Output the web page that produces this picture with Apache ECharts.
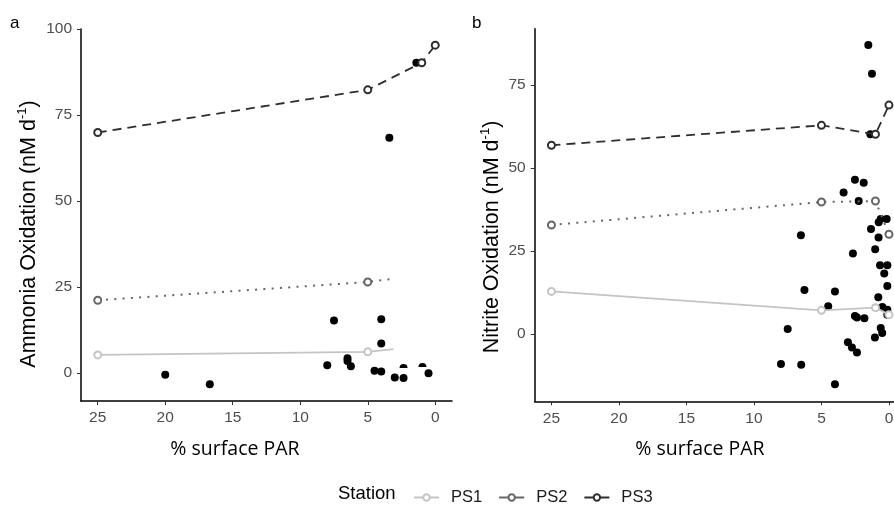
<!DOCTYPE html>
<html>
<head>
<meta charset="utf-8">
<script src="https://cdn.jsdelivr.net/npm/echarts@6/dist/echarts.min.js"></script>
<style>
html,body{margin:0;padding:0;background:#fff;}
#chart{width:894px;height:506px;}
</style>
</head>
<body>
<div id="chart"></div>
<script>
// ---- data ----
const stations = ['PS1', 'PS2', 'PS3'];
const xTicks = [0, 5, 10, 15, 20, 25];
const ammoniaTicks = [0, 25, 50, 75, 100];
const nitriteTicks = [0, 25, 50, 75];

// Panel a: ammonia oxidation, station lines (last PS1/PS2 point has no circle)
const ammoniaPS1 = [[25, 5.2], [5, 6.1], [3.1, 6.9]];
const ammoniaPS2 = [[25, 21.1], [5, 26.4], [3.1, 27.4]];
const ammoniaPS3 = [[25, 69.9], [5, 82.3], [1.0, 90.2], [0, 95.3]];
const ammoniaObs = [
  [20.0, -0.6], [16.7, -3.3], [7.5, 15.2], [8.0, 2.2], [6.5, 4.2], [6.5, 3.4],
  [6.25, 1.9], [4.0, 15.6], [4.0, 8.5], [4.5, 0.6], [4.0, 0.4], [3.0, -1.4],
  [2.35, -1.5], [0.5, -0.1], [1.4, 90.2], [3.4, 68.4]
];
const ammoniaPartial = [[2.35, 2.0], [0.95, 2.3]];

// Panel b: nitrite oxidation
const nitritePS1 = [[25, 12.9], [5, 7.2], [1.0, 8.0], [0, 5.9]];
const nitritePS2 = [[25, 32.9], [5, 39.8], [1.0, 40.1], [0, 30.1]];
const nitritePS3 = [[25, 56.9], [5, 62.9], [1.0, 60.2], [0, 69.0]];
const nitriteObs = [
  [1.53, 87.1], [1.26, 78.4], [1.38, 60.2], [2.52, 46.5], [1.87, 45.6], [3.36, 42.7],
  [2.24, 40.1], [6.52, 29.8], [1.33, 31.7], [0.76, 33.7], [0.61, 34.7], [0.17, 34.7],
  [0.77, 29.1], [1.02, 25.6], [2.67, 24.3], [0.66, 20.8], [0.12, 20.8], [0.35, 18.3],
  [0.12, 14.5], [6.26, 13.3], [4.0, 12.9], [4.5, 8.4], [0.79, 11.1], [0.49, 8.2],
  [0.12, 7.4], [2.52, 5.5], [2.37, 5.0], [1.82, 4.8], [0.12, 5.9], [7.5, 1.6],
  [0.61, 1.9], [0.5, 0.4], [1.04, -1.0], [3.04, -2.4], [2.74, -4.0], [2.37, -5.5],
  [8.0, -9.0], [6.5, -9.2], [4.0, -15.1]
];

// ---- styles ----
const stationColors = {PS1: '#c4c4c4', PS2: '#666666', PS3: '#2e2e2e'};
const stationLine = {PS1: 'solid', PS2: [2, 6.3], PS3: [9, 6]};
const tickColor = '#4d4d4d';

function stationSeries(name, data, gi, lastNoSymbol) {
  return {
    type: 'line', name: name, xAxisIndex: gi, yAxisIndex: gi,
    data: data.map((d, i) => (lastNoSymbol && i === data.length - 1) ? {value: d, symbol: 'none'} : {value: d}),
    symbol: 'emptyCircle', symbolSize: 7,
    itemStyle: {color: stationColors[name], borderColor: stationColors[name], borderWidth: 1.3},
    lineStyle: {color: stationColors[name], width: name === 'PS2' ? 2 : 1.8, type: stationLine[name]},
    emphasis: {disabled: true}, animation: false, z: 3
  };
}
function obsSeries(data, gi) {
  return {
    type: 'scatter', name: 'obs', xAxisIndex: gi, yAxisIndex: gi, data: data,
    symbol: 'circle', symbolSize: 8, itemStyle: {color: '#000', opacity: 1}, z: 2,
    emphasis: {disabled: true}, animation: false
  };
}
function xAxis(gi) {
  return {
    type: 'value', gridIndex: gi, inverse: true, min: -1.24, max: 26.24,
    axisLine: {show: true, onZero: false, lineStyle: {color: '#000', width: 1.5}},
    axisTick: {show: true, length: 4, lineStyle: {color: '#333', width: 1}, customValues: xTicks},
    axisLabel: {color: tickColor, fontSize: 15.5, fontFamily: 'Liberation Sans', margin: 9, customValues: xTicks},
    splitLine: {show: false}
  };
}
function yAxis(gi, min, max, ticks) {
  return {
    type: 'value', gridIndex: gi, min: min, max: max,
    axisLine: {show: true, onZero: false, lineStyle: {color: '#000', width: 1.5}},
    axisTick: {show: true, length: 4, lineStyle: {color: '#333', width: 1}, customValues: ticks},
    axisLabel: {color: tickColor, fontSize: 15.5, fontFamily: 'Liberation Sans', margin: 9, customValues: ticks},
    splitLine: {show: false}
  };
}

const chart = echarts.init(document.getElementById('chart'), null, {renderer: 'canvas'});
const titleRich = {
  sup: {fontSize: 13, fontFamily: 'Liberation Sans', color: '#000', verticalAlign: 'top', lineHeight: 26},
  n: {fontSize: 21.5, fontFamily: 'Liberation Sans', color: '#000', lineHeight: 26}
};
chart.setOption({
  backgroundColor: '#fff',
  animation: false,
  grid: [
    {left: 81, top: 29, width: 371, height: 372, containLabel: false, outerBoundsMode: 'none'},
    {left: 534.7, top: 28.7, width: 371, height: 372.6, containLabel: false, outerBoundsMode: 'none'}
  ],
  xAxis: [xAxis(0), xAxis(1)],
  yAxis: [yAxis(0, -8.2, 100, ammoniaTicks), yAxis(1, -20.2, 92.0, nitriteTicks)],
  legend: {
    data: stations, left: 408, top: 484, itemWidth: 25, itemHeight: 8, itemGap: 16,
    textStyle: {fontSize: 16.5, fontFamily: 'Liberation Sans', color: '#1a1a1a', padding: [0, 0, 0, 7]},
    lineStyle: {type: 'solid'}, selectedMode: false
  },
  graphic: [
    {type: 'text', left: 10, top: 15, style: {text: 'a', fontSize: 17, fontFamily: 'Liberation Sans', fill: '#000'}},
    {type: 'text', left: 472, top: 15, style: {text: 'b', fontSize: 17, fontFamily: 'Liberation Sans', fill: '#000'}},
    {type: 'text', x: 235, y: 449, style: {text: '% surface PAR', fontSize: 19.5, fontFamily: 'Open Sans', fill: '#000', align: 'center', verticalAlign: 'middle'}},
    {type: 'text', x: 700, y: 449, style: {text: '% surface PAR', fontSize: 19.5, fontFamily: 'Open Sans', fill: '#000', align: 'center', verticalAlign: 'middle'}},
    {type: 'text', x: 29, y: 234, rotation: Math.PI / 2,
      style: {text: '{n|Ammonia Oxidation (nM d}{sup|-1}{n|)}', rich: titleRich, align: 'center', verticalAlign: 'middle'}},
    {type: 'text', x: 492, y: 237, rotation: Math.PI / 2,
      style: {text: '{n|Nitrite Oxidation (nM d}{sup|-1}{n|)}', rich: titleRich, align: 'center', verticalAlign: 'middle'}},
    {type: 'text', x: 338, y: 494, style: {text: 'Station', fontSize: 18.5, fontFamily: 'Liberation Sans', fill: '#000', verticalAlign: 'middle'}}
  ],
  series: [
    obsSeries(ammoniaObs, 0),
    {type: 'scatter', name: 'obs2', xAxisIndex: 0, yAxisIndex: 0, data: ammoniaPartial,
      symbol: 'path://M0,10 A10,10 0 0,1 20,10 Z', symbolSize: [8, 4], itemStyle: {color: '#000', opacity: 1}, z: 2, emphasis: {disabled: true}},
    stationSeries('PS1', ammoniaPS1, 0, true),
    stationSeries('PS2', ammoniaPS2, 0, true),
    stationSeries('PS3', ammoniaPS3, 0, false),
    obsSeries(nitriteObs, 1),
    stationSeries('PS1', nitritePS1, 1, false),
    stationSeries('PS2', nitritePS2, 1, false),
    stationSeries('PS3', nitritePS3, 1, false)
  ]
});
</script>
</body>
</html>
